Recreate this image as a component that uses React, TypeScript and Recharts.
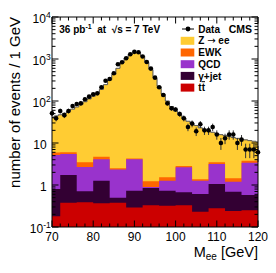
import React from 'react';
import { ComposedChart, Area, Scatter, ErrorBar, XAxis, YAxis, Legend } from 'recharts';

// ---------------- data ----------------
const massCenters = [
  70, 71, 72, 73, 74, 75, 76, 77, 78, 79,
  80, 81, 82, 83, 84, 85, 86, 87, 88, 89,
  90, 91, 92, 93, 94, 95, 96, 97, 98, 99,
  100, 101, 102, 103, 104, 105, 106, 107, 108, 109,
  110, 111, 112, 113, 114, 115, 116, 117, 118, 119,
  120,
];
const dataCounts = [
  51, 39, 58, 46, 58, 76, 85, 88, 110, 127,
  144, 152, 212, 304, 334, 457, 748, 834, 1040, 1294,
  1480, 1450, 1150, 850, 590, 360, 212, 139, 88, 67,
  63, 49, 39, 24, 29, 19, 28, 20, 20, 24,
  16, 10, 13, 16, 16, 10, 12, 7, 7, 7,
  6,
];
const mcTotal = [
  41, 44, 47, 51, 57, 64, 72, 82, 96, 112,
  130, 155, 190, 245, 320, 430, 600, 820, 1060, 1290,
  1420, 1410, 1170, 830, 560, 350, 222, 146, 100, 74,
  58, 47, 39, 33, 29, 26, 23, 21, 19.5, 18,
  16.8, 15.8, 15, 14.2, 13.5, 12.9, 12.4, 11.9, 11.4, 11,
  10.6,
];
const bkgEdges = [70, 72, 76, 80, 84, 88, 92, 96, 100, 104, 108, 112, 116, 120];
const ttbar = [0.18, 0.38, 0.39, 0.37, 0.38, 0.29, 0.33, 0.32, 0.33, 0.23, 0.28, 0.24, 0.25];
const gammaJet = [0.62, 1.35, 0.32, 0.89, 0.12, 0.44, 0.52, 0.41, 0.34, 0.38, 0.78, 0.45, 0.33];
const qcd = [4.4, 3.77, 1.99, 2.84, 1.85, 3.37, 0.05, 0.53, 1.97, 0.65, 2.1, 0.51, 2.82];
const ewk = [0.7, 0.5, 0.8, 0.6, 0.15, 0.2, 0.33, 0.26, 0.19, 0.12, 0.34, 0.24, 0.4];

const xTicks = [70, 72, 74, 76, 78, 80, 82, 84, 86, 88, 90, 92, 94, 96, 98, 100, 102, 104, 106, 108, 110, 112, 114, 116, 118, 120];
const xMajorTicks = [70, 80, 90, 100, 110, 120];
const yTicks = [
  0.1, 0.2, 0.3, 0.4, 0.5, 0.6, 0.7, 0.8, 0.9,
  1, 2, 3, 4, 5, 6, 7, 8, 9,
  10, 20, 30, 40, 50, 60, 70, 80, 90,
  100, 200, 300, 400, 500, 600, 700, 800, 900,
  1000, 2000, 3000, 4000, 5000, 6000, 7000, 8000, 9000,
  10000,
];
const yMajorTicks = [0.1, 1, 10, 100, 1000, 10000];
const yTickBase = ['10', '1', '10', '10', '10', '10'];
const yTickExp = ['-1', '', '', '2', '3', '4'];

const COLORS = { z: '#FFCC33', ewk: '#FF6600', qcd: '#9933CC', gam: '#330033', tt: '#CC0000' };
const legendColors = [COLORS.z, COLORS.ewk, COLORS.qcd, COLORS.gam, COLORS.tt];

// ---------------- derived tables ----------------
const W = 268;
const H = 265;
const FONT = '"Liberation Sans", Arial, Helvetica, sans-serif';
const Y_MIN = 0.1;

const mcSteps = [
  ...mcTotal.map((v, i) => ({ x: massCenters[i] - 0.5, y: v })),
  { x: massCenters[massCenters.length - 1] + 0.5, y: mcTotal[mcTotal.length - 1] },
];

const cumulate = (layers: number[][]) =>
  layers[0].map((_, i) => layers.reduce((s, l) => s + l[i], 0));

const toSteps = (vals: number[]) => [
  ...vals.map((v, i) => ({ x: bkgEdges[i], y: v })),
  { x: bkgEdges[bkgEdges.length - 1], y: vals[vals.length - 1] },
];

const ttSteps = toSteps(ttbar);
const gamSteps = toSteps(cumulate([ttbar, gammaJet]));
const qcdSteps = toSteps(cumulate([ttbar, gammaJet, qcd]));
const ewkSteps = toSteps(cumulate([ttbar, gammaJet, qcd, ewk]));

const dataPoints = massCenters.map((m, i) => ({ x: m, y: dataCounts[i], err: Math.sqrt(dataCounts[i]) }));

// ---------------- ticks ----------------
const BottomTick = (p: any) => {
  const { x, y, payload } = p;
  const v = payload.value;
  const major = xMajorTicks.includes(v);
  return (
    <g>
      <line x1={x} x2={x} y1={y} y2={y - (major ? 6.5 : 3.5)} stroke="#000" strokeWidth={1} />
      {major && (
        <text x={x} y={y + 13.5} textAnchor="middle" fontSize={12} fill="#000" fontFamily={FONT}>
          {v}
        </text>
      )}
    </g>
  );
};

const TopTick = (p: any) => {
  const { x, y, payload } = p;
  const major = xMajorTicks.includes(payload.value);
  return <line x1={x} x2={x} y1={y} y2={y + (major ? 6.5 : 3.5)} stroke="#000" strokeWidth={1} />;
};

const LeftTick = (p: any) => {
  const { x, y, payload } = p;
  const idx = yMajorTicks.indexOf(payload.value);
  const major = idx >= 0;
  return (
    <g>
      <line x1={x} x2={x + (major ? 6.5 : 3.5)} y1={y} y2={y} stroke="#000" strokeWidth={1} />
      {major &&
        (yTickExp[idx] ? (
          <text x={x - 1.3} y={y + 5.5} textAnchor="end" fontSize={12} fill="#000" fontFamily={FONT}>
            {yTickBase[idx]}
            <tspan dy={-5} fontSize={8.5}>
              {yTickExp[idx]}
            </tspan>
          </text>
        ) : (
          <text x={x - 5.3} y={y + 5.5} textAnchor="end" fontSize={12} fill="#000" fontFamily={FONT}>
            {yTickBase[idx]}
          </text>
        ))}
    </g>
  );
};

const RightTick = (p: any) => {
  const { x, y, payload } = p;
  const major = yMajorTicks.includes(payload.value);
  return <line x1={x} x2={x - (major ? 6.5 : 3.5)} y1={y} y2={y} stroke="#000" strokeWidth={1} />;
};

// ---------------- overlay (legend + titles) ----------------
const rowY = [32.8, 44.5, 56.2, 67.9, 79.6];
const ARROW_FONT = '"DejaVu Sans", sans-serif';

const legendLabels = [
  <>
    Z <tspan fontFamily={ARROW_FONT} fontWeight="normal">{'\u2192'}</tspan> ee
  </>,
  <>EWK</>,
  <>QCD</>,
  <>{'\u03b3+jet'}</>,
  <>
    t<tspan textDecoration="overline">t</tspan>
  </>,
];

const Overlay = () => (
  <svg width={W} height={H} style={{ position: 'absolute', left: 0, top: 0, overflow: 'visible' }} fontFamily={FONT}>
    <text x={12} y={9} transform="rotate(-90 12 9)" textAnchor="end" fontSize={15} fill="#000">
      number of events / 1 GeV
    </text>
    <text x={250} y={248.5} textAnchor="end" fontSize={14.5} fill="#000">
      M<tspan dy={3.5} fontSize={10}>ee</tspan>
      <tspan dy={-3.5} fontSize={14.5}>{'\u00a0[GeV]'}</tspan>
    </text>
    <text x={51.3} y={24.6} fontSize={10} fontWeight="bold" fill="#000">
      36 pb<tspan dy={-4} fontSize={7}>-1</tspan>
      <tspan dy={4}>{'\u00a0 at \u00a0\u221As = 7 TeV'}</tspan>
    </text>
    <text x={244} y={24.7} textAnchor="end" fontSize={10.5} fontWeight="bold" fill="#000">
      CMS
    </text>
    <line x1={174} x2={186} y1={21} y2={21} stroke="#000" strokeWidth={1} />
    <circle cx={180} cy={21} r={2.4} fill="#000" />
    <text x={190.3} y={24.7} fontSize={10} fontWeight="bold" fill="#000">
      Data
    </text>
    {legendLabels.map((label, i) => (
      <g key={i}>
        <rect x={172.7} y={rowY[i] - 4} width={13.6} height={8} fill={legendColors[i]} />
        <text x={190.3} y={rowY[i] + 3.6} fontSize={10} fontWeight="bold" fill="#000">
          {label}
        </text>
      </g>
    ))}
  </svg>
);

export default function App() {
  return (
    <div style={{ width: W, height: H }}>
      <ComposedChart width={W} height={H} margin={{ top: 0, right: 0, bottom: 0, left: 0 }}>
        <Area
          xAxisId="bottom"
          yAxisId="left"
          data={mcSteps}
          dataKey="y"
          type="stepAfter"
          baseValue={Y_MIN}
          fill={COLORS.z}
          fillOpacity={1}
          stroke="#555"
          strokeWidth={1}
          isAnimationActive={false}
          dot={false}
          activeDot={false}
        />
        <Area xAxisId="bottom" yAxisId="left" data={ewkSteps} dataKey="y" type="stepAfter" baseValue={Y_MIN}
          fill={COLORS.ewk} fillOpacity={1} stroke="none" isAnimationActive={false} dot={false} activeDot={false} />
        <Area xAxisId="bottom" yAxisId="left" data={qcdSteps} dataKey="y" type="stepAfter" baseValue={Y_MIN}
          fill={COLORS.qcd} fillOpacity={1} stroke="none" isAnimationActive={false} dot={false} activeDot={false} />
        <Area xAxisId="bottom" yAxisId="left" data={gamSteps} dataKey="y" type="stepAfter" baseValue={Y_MIN}
          fill={COLORS.gam} fillOpacity={1} stroke="none" isAnimationActive={false} dot={false} activeDot={false} />
        <Area xAxisId="bottom" yAxisId="left" data={ttSteps} dataKey="y" type="stepAfter" baseValue={Y_MIN}
          fill={COLORS.tt} fillOpacity={1} stroke="none" isAnimationActive={false} dot={false} activeDot={false} />

        <XAxis
          xAxisId="bottom"
          type="number"
          dataKey="x"
          domain={[70, 120]}
          allowDataOverflow
          ticks={xTicks}
          interval={0}
          tickLine={false}
          tickSize={0}
          tickMargin={0}
          tick={BottomTick}
          height={46}
          axisLine={{ stroke: '#000', strokeWidth: 1 }}
        />
        <XAxis
          xAxisId="top"
          orientation="top"
          type="number"
          dataKey="x"
          domain={[70, 120]}
          ticks={xTicks}
          interval={0}
          tickLine={false}
          tickSize={0}
          tickMargin={0}
          tick={TopTick}
          height={9}
          axisLine={{ stroke: '#000', strokeWidth: 1 }}
        />
        <YAxis
          yAxisId="left"
          type="number"
          scale="log"
          domain={[0.1, 10000]}
          ticks={yTicks}
          interval={0}
          tickLine={false}
          tickSize={0}
          tickMargin={0}
          tick={LeftTick}
          width={44}
          axisLine={{ stroke: '#000', strokeWidth: 1 }}
        />
        <YAxis
          yAxisId="right"
          orientation="right"
          type="number"
          scale="log"
          domain={[0.1, 10000]}
          allowDataOverflow
          ticks={yTicks}
          interval={0}
          tickLine={false}
          tickSize={0}
          tickMargin={0}
          tick={RightTick}
          width={18}
          axisLine={{ stroke: '#000', strokeWidth: 1 }}
        />

        <Scatter
          xAxisId="top"
          yAxisId="left"
          data={dataPoints}
          dataKey="y"
          isAnimationActive={false}
          shape={(p: any) => <circle cx={p.cx} cy={p.cy} r={2.3} fill="#000" />}
        >
          <ErrorBar dataKey="err" direction="y" width={0} stroke="#333" strokeWidth={1} />
        </Scatter>

        <Legend
          layout="horizontal"
          verticalAlign="middle"
          align="center"
          content={() => <Overlay />}
          wrapperStyle={{ left: 0, top: 0, width: W, height: H, pointerEvents: 'none' }}
        />
      </ComposedChart>
    </div>
  );
}
